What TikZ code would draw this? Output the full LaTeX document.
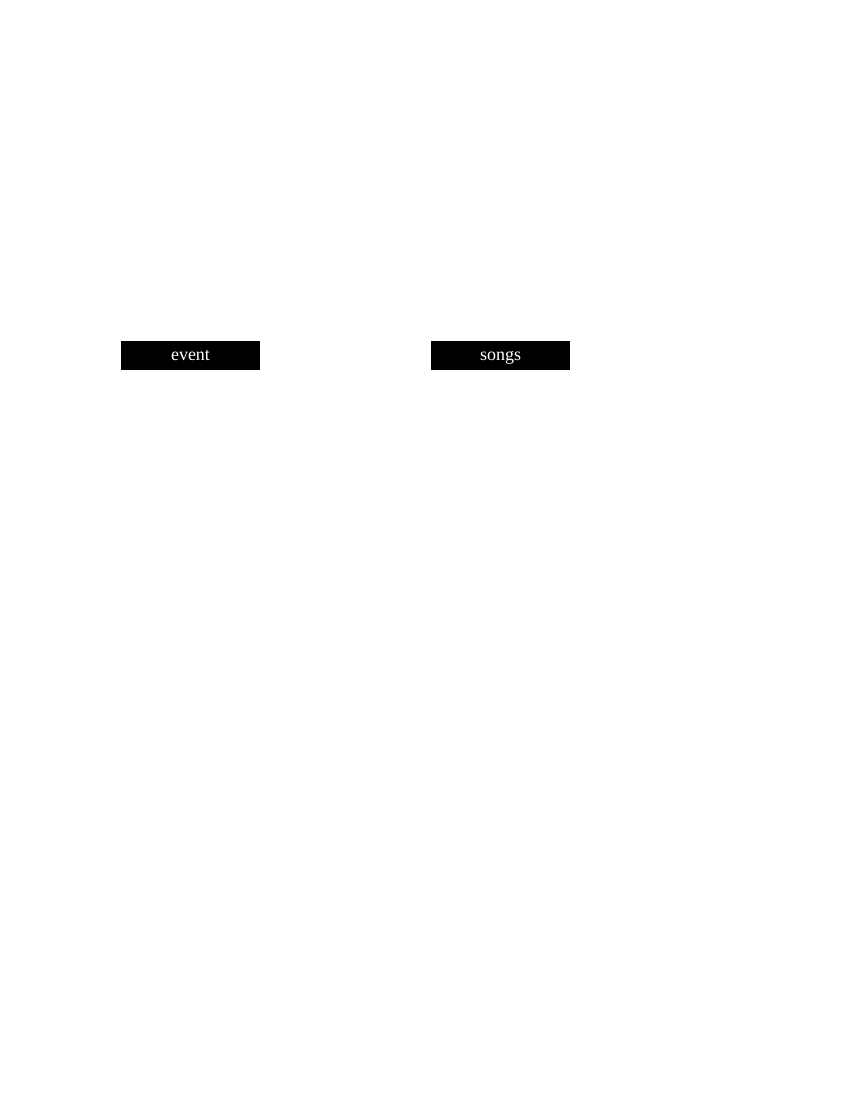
\documentclass[tikz,border=0pt]{standalone}
\usepackage{fontspec}
\setmainfont{Liberation Serif}

\begin{document}
\begin{tikzpicture}[x=0.01in,y=-0.01in, every node/.style={font=\fontsize{13pt}{15pt}\selectfont},
    entity/.style={fill=black,text=white,minimum width=1.39in,minimum height=0.29in,text height=8.5pt,text depth=2pt,inner sep=0pt,outer sep=0pt}]
    \useasboundingbox (0,0) rectangle (850,1100);
    \node[entity] (event) at (190.5,355.5) {event};
    \node[entity] (songs) at (500.5,355.5) {songs};
\end{tikzpicture}
\end{document}
